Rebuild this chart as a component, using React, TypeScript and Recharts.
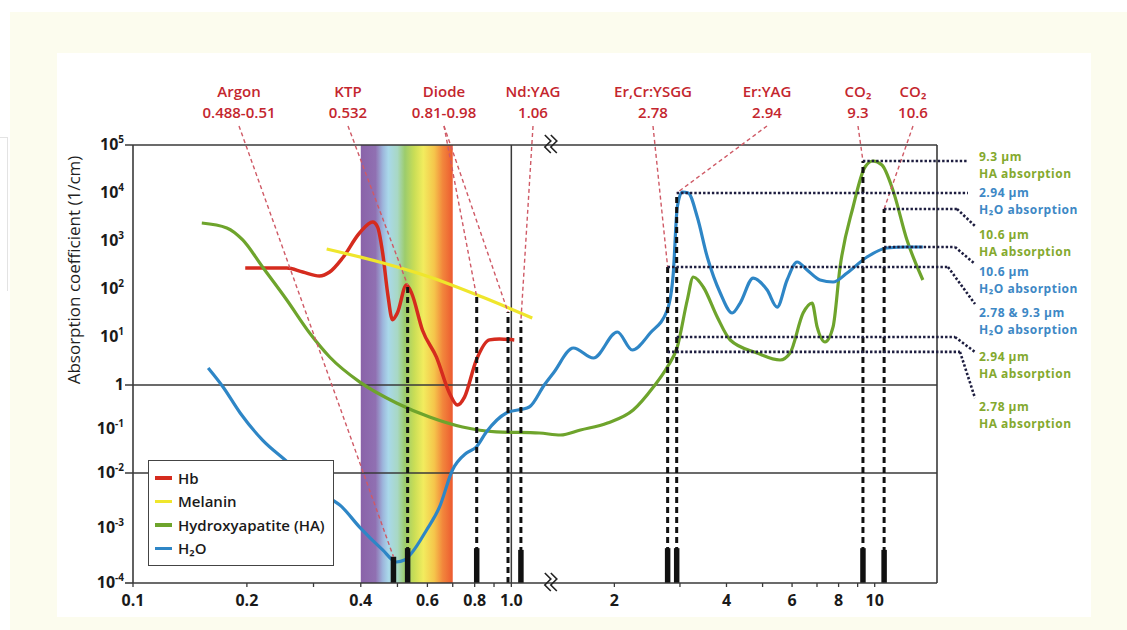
import React from "react";
import {
  LineChart,
  Line,
  XAxis,
  YAxis,
  Legend,
  ReferenceLine,
  ReferenceArea,
  ReferenceDot,
} from "recharts";

const FONT = "'Open Sans', 'Noto Sans', sans-serif";

// ---- values (wavelength in µm, absorption in 1/cm) ----
const hbWavelength = [0.198, 0.22, 0.255, 0.281, 0.311, 0.331, 0.358, 0.397, 0.43, 0.443, 0.457, 0.471, 0.485, 0.5, 0.528, 0.545, 0.582, 0.634, 0.686, 0.72, 0.752, 0.808, 0.875, 0.93, 1.018];
const hbAbsorption = [274, 274, 274, 226, 187, 226, 442, 1470, 2490, 1960, 560, 82, 23, 32, 121, 82, 14, 3.8, 0.66, 0.35, 0.53, 3.3, 8.7, 9.1, 8.7];

const melaninWavelength = [0.325, 0.448, 0.608, 0.838, 1.136];
const melaninAbsorption = [681, 365, 178, 68, 24.9];

const haWavelength = [0.152, 0.177, 0.195, 0.22, 0.255, 0.293, 0.331, 0.397, 0.497, 0.608, 0.743, 0.913, 1.186, 1.433, 1.622, 1.917, 2.247, 2.545, 2.774, 2.951, 3.139, 3.257, 3.465, 3.777, 4.093, 4.834, 5.573, 5.927, 6.424, 6.791, 7.005, 7.358, 7.731, 8.073, 8.748, 9.418, 9.894, 10.46, 11.19, 12.21, 13.47];
const haAbsorption = [2370, 1870, 1050, 287, 59, 12.1, 3.83, 1.16, 0.39, 0.187, 0.111, 0.086, 0.081, 0.073, 0.095, 0.137, 0.27, 0.9, 2.37, 6.19, 59, 178, 110, 26.1, 8.66, 4.64, 3.32, 4.64, 31.6, 51, 16.2, 7.87, 16.2, 287, 5110, 34800, 46400, 38300, 11550, 1049, 154];

const waterWavelength = [0.158, 0.173, 0.192, 0.22, 0.252, 0.337, 0.352, 0.397, 0.457, 0.497, 0.522, 0.545, 0.597, 0.646, 0.699, 0.761, 0.808, 0.859, 0.97, 1.115, 1.222, 1.372, 1.552, 1.757, 2.037, 2.234, 2.496, 2.774, 2.879, 2.951, 3.043, 3.158, 3.339, 3.552, 3.849, 4.144, 4.353, 4.716, 5.144, 5.471, 5.818, 6.188, 6.584, 7.134, 7.731, 8.43, 9.535, 10.79, 12.21, 13.47];
const waterAbsorption = [2.26, 0.9, 0.231, 0.056, 0.02, 0.00323, 0.00262, 0.00104, 0.0004, 0.000241, 0.000262, 0.000351, 0.00092, 0.00241, 0.0117, 0.0285, 0.039, 0.0855, 0.231, 0.316, 1.0, 1.78, 5.9, 3.65, 12.7, 5.36, 12.1, 36.5, 215, 5110, 10490, 10000, 3162, 464, 82.5, 31.6, 51, 169, 95, 42, 154, 365, 249, 154, 140, 215, 464, 715, 750, 750];

const legendOrder = ["Hb", "Melanin", "Hydroxyapatite (HA)", "H₂O"];

const laserNames = ["Argon", "KTP", "Diode", "Nd:YAG", "Er,Cr:YSGG", "Er:YAG", "CO₂", "CO₂"];
const laserRanges = ["0.488-0.51", "0.532", "0.81-0.98", "1.06", "2.78", "2.94", "9.3", "10.6"];

// black marker lines at the laser wavelengths
const markerWavelength = [0.488, 0.532, 0.81, 0.98, 1.06, 2.78, 2.94, 9.3, 10.6];
const markerTop: (number | null)[] = [null, 121, 68, 33, 22, 287, 10000, 46400, 4640];
const markerBarTop: (number | null)[] = [3e-4, 4.3e-4, 4.3e-4, null, 4e-4, 4.3e-4, 4.3e-4, 4.3e-4, 4e-4];
const markerLaser = [0, 1, 2, 2, 3, 4, 5, 6, 7];

// absorption notes on the right
const noteWavelength = [9.3, 2.94, 10.6, 10.6, 2.78, 2.94, 2.78];
const noteAbsorption = [46400, 10000, 4640, 750, 287, 10, 4.9];
const noteTitle = ["9.3 µm", "2.94 µm", "10.6 µm", "10.6 µm", "2.78 & 9.3 µm", "2.94 µm", "2.78 µm"];
const noteMaterial = ["HA", "H2O", "HA", "H2O", "H2O", "HA", "HA"];

const xTickValues = [0.1, 0.2, 0.3, 0.4, 0.5, 0.6, 0.7, 0.8, 0.9, 1.0, 2, 3, 4, 5, 6, 7, 8, 9, 10];
const xTickLabels = ["0.1", "0.2", "", "0.4", "", "0.6", "", "0.8", "", "1.0", "2", "", "4", "", "6", "", "8", "", "10"];
const yDecades = [-4, -3, -2, -1, 0, 1, 2, 3, 4, 5];

// ---- layout ----
const W = 1127;
const H = 630;
const PLOT = { left: 133, top: 145, right: 937, bottom: 583 };
const UX = PLOT.right - PLOT.left;
const UY = PLOT.bottom - PLOT.top;
const ux = (px: number) => px - PLOT.left;
const uy = (py: number) => PLOT.bottom - py;

// broken log axis: one log segment either side of the break
const X_SEGMENTS = [
  { w0: 0.1, w1: 1.25, u0: 0, u1: 415 },
  { w0: 1.36, w1: 14.7, u0: 419, u1: UX },
];
// the decades are not evenly spaced in the original
const Y_SEGMENTS = [
  { d0: -4, d1: -2, u0: 0, u1: 110 },
  { d0: -2, d1: 0, u0: 110, u1: 198 },
  { d0: 0, d1: 5, u0: 198, u1: UY },
];

const X = (w: number): number => {
  const [a, b] = X_SEGMENTS;
  if (w <= a.w1) return a.u0 + ((a.u1 - a.u0) * Math.log10(w / a.w0)) / Math.log10(a.w1 / a.w0);
  if (w >= b.w0) return b.u0 + ((b.u1 - b.u0) * Math.log10(w / b.w0)) / Math.log10(b.w1 / b.w0);
  return a.u1 + ((b.u0 - a.u1) * (w - a.w1)) / (b.w0 - a.w1);
};

const Y = (v: number): number => {
  const d = Math.log10(v);
  const s = Y_SEGMENTS.find((seg) => d <= seg.d1) ?? Y_SEGMENTS[Y_SEGMENTS.length - 1];
  return s.u0 + ((s.u1 - s.u0) * (d - s.d0)) / (s.d1 - s.d0);
};

const toPoints = (ws: number[], vs: number[]) => ws.map((w, i) => ({ x: X(w), y: Y(vs[i]) }));

const hbData = toPoints(hbWavelength, hbAbsorption);
const melaninData = toPoints(melaninWavelength, melaninAbsorption);
const haData = toPoints(haWavelength, haAbsorption);
const waterData = toPoints(waterWavelength, waterAbsorption);

const xTickU = xTickValues.map(X);
const yTickU = yDecades.map((d) => Y(Math.pow(10, d)));

const COLORS = {
  hb: "#d52b1e",
  melanin: "#efe62c",
  ha: "#6ea42c",
  water: "#2e86c6",
  laser: "#c4262e",
  leader: "#cf5a66",
  haText: "#84a92e",
  waterText: "#3d88c5",
  frame: "#3a3a3a",
};

const laserLabelX = [239, 348, 444, 533, 653, 767, 858, 913];
const LEADER_TOP = 126;

const noteBendX = [968, 968, 957, 955, 948, 955, 960];
const noteEndY: (number | null)[] = [null, null, 226, 264, 304, 352, 398];
const noteTextY = [161, 197, 239, 276, 317, 361, 411];
const NOTE_END_X = 975;
const NOTE_TEXT_X = 979;
const NOTE_LINE = 16.5;

const xLabel = (u: number) => {
  const i = xTickU.findIndex((t) => Math.abs(t - u) < 0.01);
  return i >= 0 ? xTickLabels[i] : "";
};

const DecadeTick = (props: any) => {
  const { x, y, payload } = props;
  const i = yTickU.findIndex((t) => Math.abs(t - payload.value) < 0.01);
  const d = yDecades[i];
  return (
    <text x={x - 1} y={y + 5} textAnchor="end" fontFamily={FONT} fontWeight={700} fontSize={16} fill="#1a1a1a">
      {d === 0 ? (
        "1"
      ) : (
        <>
          10
          <tspan dy={-7} fontSize={10}>
            {d < 0 ? "-" + Math.abs(d) : String(d)}
          </tspan>
        </>
      )}
    </text>
  );
};

const BreakMark = (props: any) => {
  const { cx, cy } = props;
  const zig = (dx: number) =>
    `M${cx - 5 + dx} ${cy - 10} L${cx + 1 + dx} ${cy - 4} L${cx - 5 + dx} ${cy + 2} L${cx + 1 + dx} ${cy + 8}`;
  return (
    <g fill="none" stroke="#222" strokeWidth={1.6}>
      <path d={zig(0)} />
      <path d={zig(6)} />
    </g>
  );
};

const renderLegend = (props: any) => {
  const payload = [...(props.payload || [])].sort(
    (a: any, b: any) => legendOrder.indexOf(a.value) - legendOrder.indexOf(b.value)
  );
  return (
    <div
      style={{
        border: "1.5px solid #444",
        background: "#fff",
        boxSizing: "border-box",
        width: 186,
        height: 106,
        padding: "5px 6px",
        fontFamily: FONT,
        fontWeight: 600,
        fontSize: 15,
        color: "#1a1a1a",
      }}
    >
      {payload.map((p: any) => (
        <div key={p.value} style={{ display: "flex", alignItems: "center", height: 23.5 }}>
          <span style={{ display: "inline-block", width: 17, height: 3.5, background: p.color, marginRight: 6 }} />
          <span>{p.value}</span>
        </div>
      ))}
    </div>
  );
};

const seg = (x1: number, y1: number, x2: number, y2: number) => [
  { x: x1, y: y1 },
  { x: x2, y: y2 },
];

export default function App() {
  const bottom = Y(1e-4);
  return (
    <div style={{ position: "absolute", left: 0, top: 0, width: W, height: H, background: "#fff", overflow: "hidden" }}>
      <div style={{ position: "absolute", left: 10, top: 12, right: 0, bottom: 0, background: "#fcfcee" }} />
      <div style={{ position: "absolute", left: 57, top: 53, width: 1034, height: 564, background: "#fff" }} />
      <div style={{ position: "absolute", left: 0, top: 137, width: 7, height: 153, borderTop: "1px solid #e3e3e3", borderRight: "1px solid #e3e3e3" }} />

      <div style={{ position: "absolute", left: 0, top: 0 }}>
        <LineChart width={W} height={H} margin={{ top: PLOT.top, right: W - PLOT.right, bottom: 17, left: PLOT.left - 60 }}>
          <defs>
            <linearGradient id="rainbow" x1="0" y1="0" x2="1" y2="0">
              <stop offset="0%" stopColor="#8a63a9" />
              <stop offset="16%" stopColor="#9070b2" />
              <stop offset="24%" stopColor="#9db6dc" />
              <stop offset="30%" stopColor="#a9d8ea" />
              <stop offset="40%" stopColor="#a8d8c4" />
              <stop offset="48%" stopColor="#9ccc6c" />
              <stop offset="58%" stopColor="#c9dd56" />
              <stop offset="68%" stopColor="#f2ec5e" />
              <stop offset="80%" stopColor="#f5c54b" />
              <stop offset="89%" stopColor="#f2873c" />
              <stop offset="100%" stopColor="#ec5a30" />
            </linearGradient>
          </defs>
          <XAxis
            type="number"
            dataKey="x"
            domain={[0, UX]}
            ticks={xTickU}
            tickFormatter={xLabel}
            allowDataOverflow
            height={30}
            tickSize={4}
            tickMargin={8}
            axisLine={{ stroke: COLORS.frame, strokeWidth: 1.6 }}
            tickLine={{ stroke: COLORS.frame, strokeWidth: 1.3 }}
            tick={{ fontFamily: FONT, fontWeight: 700, fontSize: 16, fill: "#1a1a1a" }}
            interval={0}
          />
          <YAxis
            type="number"
            domain={[0, UY]}
            ticks={yTickU}
            allowDataOverflow
            width={60}
            tickLine={false}
            axisLine={{ stroke: COLORS.frame, strokeWidth: 1.6 }}
            tick={<DecadeTick />}
            interval={0}
          />

          <ReferenceArea x1={X(0.4)} x2={X(0.7)} y1={0} y2={UY} fill="url(#rainbow)" fillOpacity={1} stroke="none" ifOverflow="visible" />

          {/* frame and guide lines */}
          <ReferenceLine segment={seg(-8, UY, UX, UY)} stroke={COLORS.frame} strokeWidth={1.6} ifOverflow="visible" />
          <ReferenceLine segment={seg(UX, 0, UX, UY)} stroke={COLORS.frame} strokeWidth={1.6} ifOverflow="visible" />
          <ReferenceLine segment={seg(-8, Y(1), UX, Y(1))} stroke={COLORS.frame} strokeWidth={1.5} ifOverflow="visible" />
          <ReferenceLine segment={seg(-8, Y(1e-2), UX, Y(1e-2))} stroke={COLORS.frame} strokeWidth={1.5} ifOverflow="visible" />
          <ReferenceLine segment={seg(-8, bottom, 0, bottom)} stroke={COLORS.frame} strokeWidth={1.6} ifOverflow="visible" />
          <ReferenceLine segment={seg(X(1.0), 0, X(1.0), UY)} stroke={COLORS.frame} strokeWidth={1.5} ifOverflow="visible" />

          <Line data={hbData} dataKey="y" name="Hb" type="monotone" stroke={COLORS.hb} strokeWidth={3.5} dot={false} isAnimationActive={false} />
          <Line data={melaninData} dataKey="y" name="Melanin" type="monotone" stroke={COLORS.melanin} strokeWidth={3.2} dot={false} isAnimationActive={false} />
          <Line data={haData} dataKey="y" name="Hydroxyapatite (HA)" type="monotone" stroke={COLORS.ha} strokeWidth={3.2} dot={false} isAnimationActive={false} />
          <Line data={waterData} dataKey="y" name="H₂O" type="monotone" stroke={COLORS.water} strokeWidth={3.2} dot={false} isAnimationActive={false} />

          {/* dashed marker lines and bars */}
          {markerWavelength.map((w, i) =>
            markerTop[i] == null ? null : (
              <ReferenceLine
                key={`dash${i}`}
                segment={seg(X(w), bottom, X(w), Y(markerTop[i] as number))}
                stroke="#111"
                strokeWidth={3}
                strokeDasharray="6 4"
                ifOverflow="visible"
              />
            )
          )}
          {markerWavelength.map((w, i) =>
            markerBarTop[i] == null ? null : (
              <ReferenceLine
                key={`bar${i}`}
                segment={seg(X(w), bottom, X(w), Y(markerBarTop[i] as number))}
                stroke="#111"
                strokeWidth={5.5}
                ifOverflow="visible"
              />
            )
          )}

          {/* red leaders from laser labels */}
          {markerWavelength.map((w, i) => {
            const v = markerTop[i] ?? (markerBarTop[i] as number);
            return (
              <ReferenceLine
                key={`lead${i}`}
                segment={seg(ux(laserLabelX[markerLaser[i]]), uy(LEADER_TOP), X(w), Y(v))}
                stroke={COLORS.leader}
                strokeWidth={1.4}
                strokeDasharray="4 3"
                ifOverflow="visible"
              />
            );
          })}

          {/* dotted leaders to the notes */}
          {noteWavelength.map((w, i) => (
            <ReferenceLine
              key={`noteh${i}`}
              segment={seg(X(w), Y(noteAbsorption[i]), ux(noteBendX[i]), Y(noteAbsorption[i]))}
              stroke="#1d1d3f"
              strokeWidth={2.6}
              strokeDasharray="2.4 2"
              ifOverflow="visible"
            />
          ))}
          {noteWavelength.map((w, i) =>
            noteEndY[i] == null ? null : (
              <ReferenceLine
                key={`noted${i}`}
                segment={seg(ux(noteBendX[i]), Y(noteAbsorption[i]), ux(NOTE_END_X), uy(noteEndY[i] as number))}
                stroke="#1d1d3f"
                strokeWidth={2.6}
                strokeDasharray="2.4 2"
                ifOverflow="visible"
              />
            )
          )}

          <ReferenceDot x={X(1.3)} y={UY} r={0} shape={<BreakMark />} ifOverflow="visible" />
          <ReferenceDot x={X(1.3)} y={bottom} r={0} shape={<BreakMark />} ifOverflow="visible" />

          <Legend
            layout="vertical"
            align="center"
            verticalAlign="middle"
            content={renderLegend}
            wrapperStyle={{ left: 148, top: 460, width: 186, height: 106 }}
          />
        </LineChart>
      </div>

      <svg width={W} height={H} style={{ position: "absolute", left: 0, top: 0, pointerEvents: "none" }}>
        <text
          transform="translate(73,270) rotate(-90)"
          textAnchor="middle"
          dominantBaseline="central"
          fontFamily={FONT}
          fontSize={17}
          fontWeight={500}
          fill="#1f1f1f"
        >
          Absorption coefficient (1/cm)
        </text>

        {laserNames.map((name, i) => (
          <g key={`laser${i}`} fontFamily={FONT} fontWeight={600} fontSize={15} fill={COLORS.laser} textAnchor="middle">
            <text x={laserLabelX[i]} y={97}>
              {name}
            </text>
            <text x={laserLabelX[i]} y={118}>
              {laserRanges[i]}
            </text>
          </g>
        ))}

        {noteTitle.map((title, i) => {
          const isHA = noteMaterial[i] === "HA";
          return (
            <g
              key={`note${i}`}
              fontFamily={FONT}
              fontWeight={700}
              fontSize={12}
              letterSpacing={0.5}
              fill={isHA ? COLORS.haText : COLORS.waterText}
            >
              <text x={NOTE_TEXT_X} y={noteTextY[i]}>
                {title}
              </text>
              <text x={NOTE_TEXT_X} y={noteTextY[i] + NOTE_LINE}>
                {isHA ? "HA absorption" : "H₂O absorption"}
              </text>
            </g>
          );
        })}
      </svg>
    </div>
  );
}
